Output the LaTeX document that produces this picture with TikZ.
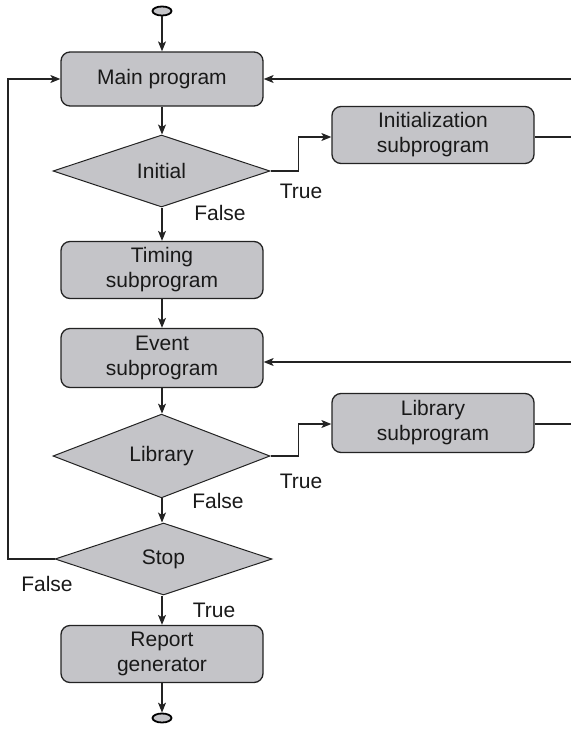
\documentclass[tikz,border=0pt]{standalone}
\usepackage{fontspec}
\setmainfont{Liberation Sans}
\usetikzlibrary{shapes.geometric,arrows.meta}
\definecolor{boxgray}{RGB}{196,196,200}
\definecolor{linegray}{RGB}{35,35,35}
\begin{document}
\begin{tikzpicture}[x=1pt,y=-1pt,
  txt/.style={font=\fontsize{21}{25}\selectfont, text=black!90},
  box/.style={txt, draw=linegray, line width=1.3pt, fill=boxgray, rounded corners=9pt,
    minimum width=202pt, minimum height=57pt, align=center, inner sep=0pt},
  dia/.style={txt, diamond, draw=linegray, line width=1pt, fill=boxgray,
    minimum width=217pt, minimum height=72pt, inner sep=0pt},
  term/.style={ellipse, draw=black, line width=1.8pt, fill=boxgray,
    minimum width=19pt, minimum height=9pt, inner sep=0pt},
  lbl/.style={txt},
  conn/.style={draw=linegray, line width=1.1pt, -{Stealth[length=10pt,width=8pt,inset=2.5pt]}},
  plain/.style={draw=linegray, line width=1.1pt}]
\useasboundingbox (0,0) rectangle (571,736);

\node[term] (start) at (162,11) {};
\node[box, minimum height=54pt] (main) at (162,79) {Main program};
\node[dia] (init) at (161.5,171) {Initial};
\node[box] (initsub) at (433,135) {Initialization\\subprogram};
\node[box] (timing) at (162,270) {Timing\\subprogram};
\node[box, minimum height=59pt] (event) at (162,358) {Event\\subprogram};
\node[dia] (lib) at (161.5,456) {Library};
\node[box, minimum height=59pt] (libsub) at (433,423) {Library\\subprogram};
\node[dia] (stop) at (163.5,559) {Stop};
\node[box] (report) at (162,654) {Report\\generator};
\node[term] (end) at (162,718) {};

\node[lbl] (f1) at (220,213) {False};
\node[lbl] (t1) at (301,191) {True};
\node[lbl] (f2) at (218,501) {False};
\node[lbl] (t2) at (301,481) {True};
\node[lbl] (f3) at (47,584) {False};
\node[lbl] (t3) at (214,610) {True};

\coordinate (r1) at (571,79);
\coordinate (r2) at (571,137);
\coordinate (r3) at (571,362);
\coordinate (r4) at (571,424);
\coordinate (lft) at (8,559);

\path[conn] (start) -- (main);
\path[conn] (main) -- (main |- init.north);
\path[conn] (main |- init.south) -- (timing);
\path[conn] (timing) -- (event);
\path[conn] (event) -- (event |- lib.north);
\path[conn] (event |- lib.south) -- (event |- stop.north);
\path[conn] (event |- stop.south) -- (report);
\path[conn] (report) -- (end);

\path[conn] (init.east) -- ++(28,0) |- (initsub.west |- r2);
\path[conn] (lib.east) -- ++(28,0) |- (libsub.west |- r4);
\path[plain] (initsub.east |- r2) -- (r2);
\path[plain] (libsub.east |- r4) -- (r4);
\path[conn] (r1) -- (main.east);
\path[conn] (r3) -- (event.east |- r3);
\path[conn] (stop.west) -- (lft) |- (main.west);
\end{tikzpicture}
\end{document}
